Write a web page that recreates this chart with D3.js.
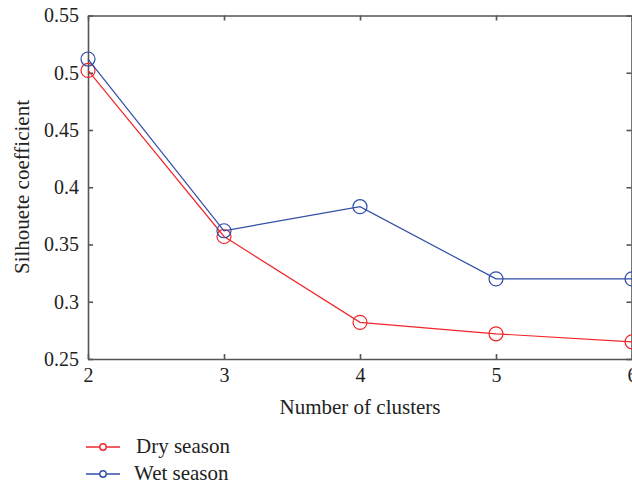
<!DOCTYPE html>
<html>
<head>
<meta charset="utf-8">
<script src="https://cdn.jsdelivr.net/npm/d3@7"></script>
<style>
  html, body { margin: 0; padding: 0; background: #fff; }
</style>
</head>
<body>
<svg id="chart" width="632" height="485"></svg>
<script>
// Silhouette coefficient by number of clusters, per season
const clusters = [2, 3, 4, 5, 6];
const drySeason = [0.502, 0.357, 0.282, 0.272, 0.265];
const wetSeason = [0.512, 0.362, 0.383, 0.320, 0.320];
const yTicks = [0.25, 0.3, 0.35, 0.4, 0.45, 0.5, 0.55];
const xTicks = [2, 3, 4, 5, 6];
const seriesNames = ["Dry season", "Wet season"];
const seriesColors = ["#f0262c", "#2f4ea6"];

const serif = "'Liberation Serif', 'Times New Roman', serif";
const svg = d3.select("#chart");
const axisColor = "#555";

const x = d3.scaleLinear().domain([2, 6]).range([88, 632]);
const y = d3.scaleLinear().domain([0.25, 0.55]).range([359, 15.5]);

// Frame with inward ticks on all four sides
const frame = svg.append("g");
frame.append("g")
  .attr("transform", `translate(0,${y(0.25)})`)
  .call(d3.axisBottom(x).tickValues(xTicks).tickSizeInner(-5).tickSizeOuter(0).tickPadding(9).tickFormat(d3.format("d")));
frame.append("g")
  .attr("transform", `translate(0,${y(0.55)})`)
  .call(d3.axisTop(x).tickValues(xTicks).tickSizeInner(-5).tickSizeOuter(0).tickFormat(""));
frame.append("g")
  .attr("transform", `translate(${x(2)},0)`)
  .call(d3.axisLeft(y).tickValues(yTicks).tickSizeInner(-5).tickSizeOuter(0).tickPadding(9).tickFormat(d => String(d)));
frame.append("g")
  .attr("transform", `translate(${x(6) - 0.5},0)`)
  .call(d3.axisRight(y).tickValues(yTicks).tickSizeInner(-5).tickSizeOuter(0).tickFormat(""));
frame.selectAll("path.domain").attr("stroke", axisColor).attr("stroke-width", 1.6);
frame.selectAll(".tick line").attr("stroke", axisColor).attr("stroke-width", 1.6);
frame.selectAll("g").attr("font-family", null);
frame.selectAll(".tick text")
  .style("font-family", serif).style("font-size", "20px").attr("fill", "#222");

// Axis titles
svg.append("text")
  .attr("x", 360).attr("y", 414)
  .attr("text-anchor", "middle")
  .style("font-family", serif).style("font-size", "21px").attr("fill", "#222")
  .text("Number of clusters");
svg.append("text")
  .attr("transform", "translate(29,187) rotate(-90)")
  .attr("text-anchor", "middle")
  .style("font-family", serif).style("font-size", "21px").attr("fill", "#222")
  .text("Silhouete coefficient");

// Series lines and circle markers
const line = d3.line().x((d, i) => x(clusters[i])).y(d => y(d));
[drySeason, wetSeason].forEach((vals, k) => {
  const g = svg.append("g");
  g.append("path").datum(vals)
    .attr("d", line).attr("fill", "none")
    .attr("stroke", seriesColors[k]).attr("stroke-width", 1.2);
  g.selectAll("circle").data(vals).join("circle")
    .attr("cx", (d, i) => x(clusters[i])).attr("cy", d => y(d))
    .attr("r", 7).attr("fill", "none")
    .attr("stroke", seriesColors[k]).attr("stroke-width", 1.2);
});

// Legend
const legend = svg.append("g");
seriesNames.forEach((name, k) => {
  const ly = 447 + k * 27;
  legend.append("line")
    .attr("x1", 86).attr("x2", 120).attr("y1", ly).attr("y2", ly)
    .attr("stroke", seriesColors[k]).attr("stroke-width", 1.4);
  legend.append("circle")
    .attr("cx", 103).attr("cy", ly).attr("r", 3.2)
    .attr("fill", "#fff").attr("stroke", seriesColors[k]).attr("stroke-width", 1.4);
  legend.append("text")
    .attr("x", k === 0 ? 136 : 134).attr("y", ly + 6)
    .style("font-family", serif).style("font-size", "21px").attr("fill", "#222")
    .text(name);
});
</script>
</body>
</html>
